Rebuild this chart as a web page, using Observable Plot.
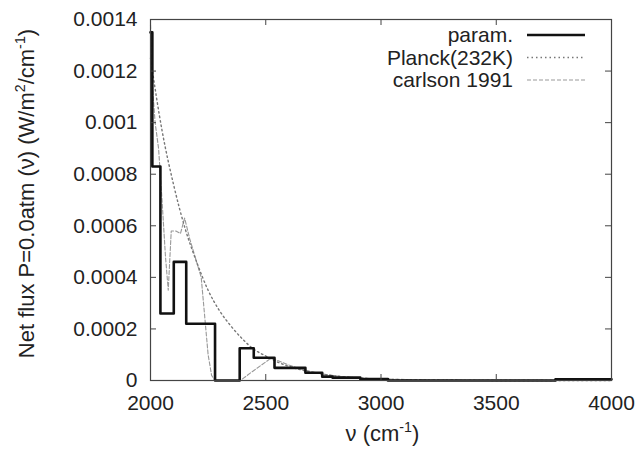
<!DOCTYPE html>
<html><head><meta charset="utf-8">
<script src="https://cdn.jsdelivr.net/npm/d3@7"></script>
<script src="https://cdn.jsdelivr.net/npm/@observablehq/plot@0.6"></script>
<style>
body{margin:0;background:#fff}
svg{font-family:"Liberation Sans",Arial,Helvetica,sans-serif}
</style>
</head><body><div id="chart"></div>
<script>
// Param. step model (bin start wavenumber, value)
const paramNu  = [2000, 2008, 2043, 2101, 2155, 2280, 2387, 2448, 2538, 2672, 2745, 2790, 2910, 3030, 3757, 4000];
const paramVal = [0.00135, 0.00083, 0.00026, 0.00046, 0.00022, 0, 0.000125, 0.000088, 0.000049, 0.00003, 0.000015, 0.000011, 0.000006, 0, 0.000005, 0.000005];

// Planck(232K)
const planckNu  = [2000, 2050, 2100, 2150, 2200, 2250, 2300, 2350, 2400, 2450, 2500, 2550, 2600, 2650, 2700, 2750, 2800, 2900, 3000, 3100, 3200, 3400, 3600, 4000];
const planckVal = [0.00125, 0.00097, 0.00076, 0.00059, 0.00046, 0.00035, 0.00027, 0.00021, 0.00016, 0.00012, 0.000095, 0.000072, 0.000055, 0.000042, 0.000032, 0.000024, 0.000018, 0.00001, 0.0000055, 0.000003, 0.0000016, 0.0000005, 0.0000001, 0];

// carlson 1991
const carlsonNu  = [2000, 2008, 2020, 2035, 2050, 2065, 2077, 2090, 2110, 2130, 2148, 2170, 2200, 2220, 2235, 2250, 2265, 2280, 2390, 2450, 2520, 2550, 2600, 2650, 2700, 2750, 2800, 2900, 3000, 3200, 3500, 4000];
const carlsonVal = [0.00138, 0.00115, 0.001, 0.0009, 0.0007, 0.00048, 0.00035, 0.00058, 0.00058, 0.00057, 0.00063, 0.00055, 0.00046, 0.0004, 0.00025, 0.0001, 0.00002, 0, 0, 0.00004, 0.000085, 0.000078, 0.00006, 0.000045, 0.000034, 0.000025, 0.000018, 0.00001, 0.000006, 0.000002, 0.0000005, 0];

const xTicks = [2000, 2500, 3000, 3500, 4000];
const xTickLabels = ["2000", "2500", "3000", "3500", "4000"];
const yTicks = [0, 0.0002, 0.0004, 0.0006, 0.0008, 0.001, 0.0012, 0.0014];
const yTickLabels = ["0", "0.0002", "0.0004", "0.0006", "0.0008", "0.001", "0.0012", "0.0014"];
const seriesNames = ["param.", "Planck(232K)", "carlson 1991"];

const W = 639, H = 449, mL = 150, mR = 28, mT = 19, mB = 69;
const fw = W - mL - mR, fh = H - mT - mB, tl = 6;
const FS = 21;

const paramData = paramNu.map((x, i) => ({x, y: paramVal[i]}));
const planckData = planckNu.map((x, i) => ({x, y: planckVal[i]}));
const carlsonData = carlsonNu.map((x, i) => ({x, y: carlsonVal[i]}));

const styles = [
  {stroke: "#111", strokeWidth: 2.6, dash: null},
  {stroke: "#777", strokeWidth: 1.4, dash: "1.5,3"},
  {stroke: "#999", strokeWidth: 1.1, dash: "4,2"}
];

const chart = Plot.plot({
  width: W, height: H,
  marginLeft: mL, marginRight: mR, marginTop: mT, marginBottom: mB,
  style: {fontFamily: '"Liberation Sans", Arial, sans-serif', fontSize: FS + "px", color: "#222", background: "#fff"},
  x: {domain: [2000, 4000]},
  y: {domain: [0, 0.0014]},
  marks: [
    Plot.line(carlsonData, {x: "x", y: "y", stroke: styles[2].stroke, strokeWidth: styles[2].strokeWidth, strokeDasharray: styles[2].dash}),
    Plot.line(planckData, {x: "x", y: "y", stroke: styles[1].stroke, strokeWidth: styles[1].strokeWidth, strokeDasharray: styles[1].dash, curve: "monotone-x"}),
    Plot.line(paramData, {x: "x", y: "y", curve: "step-after", stroke: styles[0].stroke, strokeWidth: styles[0].strokeWidth}),
    Plot.ruleX(xTicks, {x: d => d, insetTop: fh - tl, stroke: "#444"}),
    Plot.ruleX(xTicks, {x: d => d, insetBottom: fh - tl, stroke: "#444"}),
    Plot.ruleY(yTicks, {y: d => d, insetRight: fw - tl, stroke: "#444"}),
    Plot.ruleY(yTicks, {y: d => d, insetLeft: fw - tl, stroke: "#444"}),
    Plot.frame({stroke: "#444", strokeWidth: 1.2}),
    Plot.axisX(xTicks, {tickSize: 0, tickPadding: 15, fontSize: FS, label: null, tickFormat: (d, i) => xTickLabels[i]}),
    Plot.axisY(yTicks, {tickSize: 0, tickPadding: 13, fontSize: FS, label: null, tickFormat: (d, i) => yTickLabels[i]})
  ]
});

const svg = d3.select(chart);
// Axis titles
const LFS = 22;
const yl = svg.append("text")
  .attr("transform", `translate(34,${mT + fh / 2 - 6}) rotate(-90)`)
  .attr("text-anchor", "middle").attr("font-size", LFS).attr("fill", "#222");
yl.append("tspan").text("Net flux P=0.0atm (ν) (W/m");
yl.append("tspan").attr("dy", -9).attr("font-size", LFS * 0.65).text("2");
yl.append("tspan").attr("dy", 9).text("/cm");
yl.append("tspan").attr("dy", -9).attr("font-size", LFS * 0.65).text("-1");
yl.append("tspan").attr("dy", 9).text(")");

const xl = svg.append("text")
  .attr("x", mL + fw / 2 + 2).attr("y", H - 8)
  .attr("text-anchor", "middle").attr("font-size", LFS).attr("fill", "#222");
xl.append("tspan").text("ν (cm");
xl.append("tspan").attr("dy", -9).attr("font-size", LFS * 0.65).text("-1");
xl.append("tspan").attr("dy", 9).text(")");

// Legend (gnuplot-style, top right inside the frame)
const lg = svg.append("g");
seriesNames.forEach((name, i) => {
  const cy = mT + 16 + i * 22.5;
  lg.append("text").attr("x", 513).attr("y", cy + 7).attr("text-anchor", "end")
    .attr("font-size", FS).attr("fill", "#222").text(name);
  lg.append("line").attr("x1", 527).attr("x2", 585).attr("y1", cy).attr("y2", cy)
    .attr("stroke", styles[i].stroke).attr("stroke-width", styles[i].strokeWidth)
    .attr("stroke-dasharray", styles[i].dash);
});

document.getElementById("chart").appendChild(chart);
</script>
</body></html>
